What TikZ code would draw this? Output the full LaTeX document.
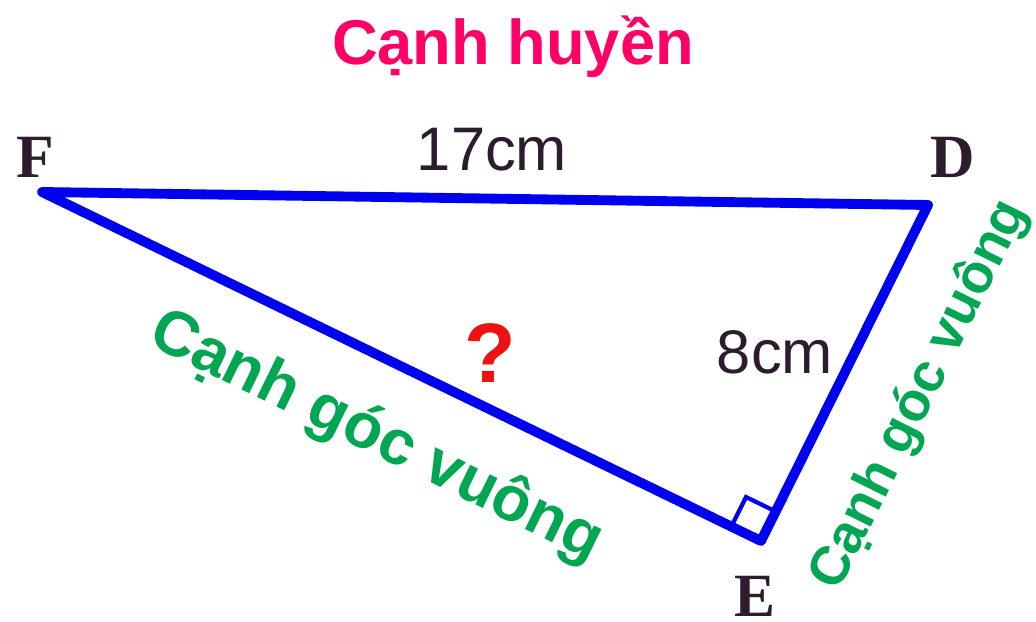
\documentclass[tikz,border=0pt]{standalone}
\usepackage{fontspec}
\setmainfont{Liberation Sans}
\newfontfamily\vertexfont{Liberation Serif}
\usetikzlibrary{calc}
\definecolor{SideBlue}{HTML}{0000F0}
\definecolor{HypPink}{HTML}{FF0066}
\definecolor{LegGreen}{HTML}{00A651}
\definecolor{InkDark}{HTML}{2D1B2E}
\definecolor{AskRed}{HTML}{EE1111}
\tikzset{
  side/.style={draw=SideBlue,line width=5.6pt,line join=round,line cap=round},
  rightmark/.style={draw=SideBlue,line width=2.4pt},
  vertexlabel/.style={font=\vertexfont\bfseries\fontsize{35}{35}\selectfont,text=InkDark,inner sep=0pt},
  lengthlabel/.style={font=\fontsize{35}{35}\selectfont,text=InkDark,inner sep=0pt},
  namelabel/.style={font=\bfseries\fontsize{#1}{#1}\selectfont,text=LegGreen,inner sep=0pt}
}
\begin{document}
\begin{tikzpicture}[x=0.02cm,y=-0.02cm]
\useasboundingbox (0,0) rectangle (1036,622);
\coordinate (F) at (42,192);
\coordinate (D) at (928,205);
\coordinate (E) at (761,541);
% right angle at E
\coordinate (EF) at ($(E)!0.66cm!(F)$);
\coordinate (ED) at ($(E)!0.66cm!(D)$);
\draw[rightmark] (EF) -- ($(EF)+(ED)-(E)$) -- (ED);
\draw[side] (F) -- (D) -- (E) -- cycle;
% vertices
\node[vertexlabel] (f) at (35,157) {F};
\node[vertexlabel] (d) at (953,157) {D};
\node[vertexlabel] (e) at (755,596) {E};
% sides
\node[lengthlabel] (hyp) at (492,150) {17cm};
\node[lengthlabel] (leg) at (775,352) {8cm};
\node[font=\bfseries\fontsize{36}{36}\selectfont,text=HypPink,inner sep=0pt] (title) at (513,47) {Cạnh huyền};
\node[font=\bfseries\fontsize{48}{48}\selectfont,text=AskRed,inner sep=0pt] (ask) at (490,353) {?};
\node[namelabel=36,rotate=-26.1] (legF) at (376,437) {Cạnh góc vuông};
\node[namelabel=31,rotate=63.7] (legD) at (920,395) {Cạnh góc vuông};
\end{tikzpicture}
\end{document}
